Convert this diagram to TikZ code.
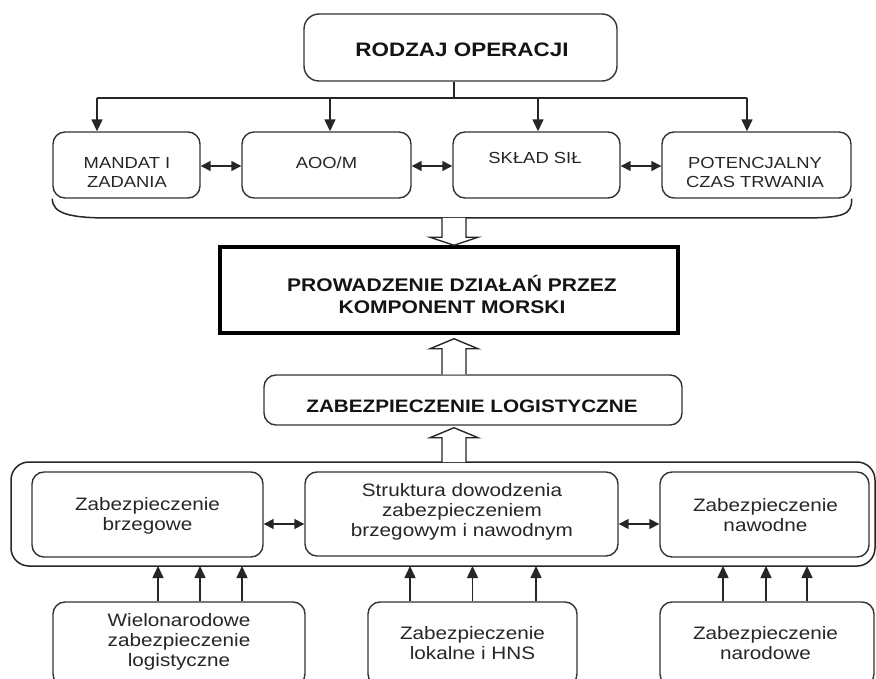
\documentclass[tikz,border=0pt]{standalone}
\usepackage{fontspec}
\newfontfamily\labf{Liberation Sans}[FakeStretch=1.15]
\usetikzlibrary{arrows.meta,calc}
\newcommand\hollowdown[2]{\draw[hol] let \p1=(#1),\p2=(#2) in
  (\x1-12pt,\y1) -- (\x1-12pt,\y2+8pt) -- (\x1-24pt,\y2+8pt) -- (\x1,\y2) -- (\x1+24pt,\y2+8pt) -- (\x1+12pt,\y2+8pt) -- (\x1+12pt,\y1);}
\newcommand\hollowup[2]{\draw[hol] let \p1=(#1),\p2=(#2) in
  (\x1-12pt,\y1) -- (\x1-12pt,\y2-10pt) -- (\x1-24pt,\y2-10pt) -- (\x1,\y2) -- (\x1+24pt,\y2-10pt) -- (\x1+12pt,\y2-10pt) -- (\x1+12pt,\y1);}
\begin{document}
\begin{tikzpicture}[x=1pt,y=-1pt,
  line/.style={draw=black!85,line width=1.5pt},
  box/.style={draw=black!80,line width=1.4pt,rounded corners=12pt,inner sep=0pt},
  thickbox/.style={draw=black,line width=3.5pt,inner sep=0pt},
  labS/.style={font={\labf\fontsize{16}{19}\selectfont},align=center,text=black!85,inner sep=0pt},
  labL/.style={font={\labf\fontsize{18}{20}\selectfont},align=center,text=black!85,inner sep=0pt},
  labB/.style={font={\labf\bfseries\fontsize{18.3}{22}\selectfont},align=center,text=black!92,inner sep=0pt},
  arr/.style={line,-{Triangle[length=12pt,width=11pt]}},
  darr/.style={line,{Triangle[length=10pt,width=10pt]}-{Triangle[length=10pt,width=10pt]}},
  hol/.style={draw=black!85,line width=1.4pt,fill=white}]
\useasboundingbox (0,0) rectangle (876,679);
\clip (0,0) rectangle (876,679);

% top
\node[box,rounded corners=15pt,minimum width=313pt,minimum height=67pt] (top) at (460.5,47.5) {};
\node[labB,font={\labf\bfseries\fontsize{19.5}{23}\selectfont}] (topT) at (462,50) {RODZAJ OPERACJI};

% row of four
\node[box,minimum width=147pt,minimum height=66pt] (mandat) at (126.5,165) {};
\node[box,minimum width=169pt,minimum height=66pt] (aoo) at (326.5,165) {};
\node[box,minimum width=167pt,minimum height=66pt] (sklad) at (536.5,165) {};
\node[box,minimum width=189pt,minimum height=66pt] (pot) at (756.5,165) {};
\node[labS] (mandatT) at (127,172) {MANDAT I\\ZADANIA};
\node[labS] (aooT) at (326.5,163) {AOO/M};
\node[labS] (skladT) at (535,158) {SKŁAD SIŁ};
\node[labS] (potT) at (755,172) {POTENCJALNY\\CZAS TRWANIA};

\coordinate (bus) at (454,98);
\coordinate (b1) at (97,98);
\coordinate (b2) at (330,98);
\coordinate (b3) at (538,98);
\coordinate (b4) at (747,98);
\draw[line] (top.south -| bus) -- (bus);
\draw[line] (b1) -- (b4);
\draw[arr] (b1) -- (b1 |- mandat.north);
\draw[arr] (b2) -- (b2 |- aoo.north);
\draw[arr] (b3) -- (b3 |- sklad.north);
\draw[arr] (b4) -- (b4 |- pot.north);

\coordinate (yr1) at (0,166);
\draw[darr] (mandat.east |- yr1) -- (aoo.west |- yr1);
\draw[darr] (aoo.east |- yr1) -- (sklad.west |- yr1);
\draw[darr] (sklad.east |- yr1) -- (pot.west |- yr1);

% brace under the row
\draw[line] (mandat.south west) .. controls +(0,15) and +(-40,0) .. (110,218) -- (800,218) .. controls +(45,0) and +(0,16) .. (pot.south east);
\coordinate (bracemid) at (454,218);

% central box
\node[thickbox,minimum width=458pt,minimum height=86pt] (prow) at (449,290) {};
\node[labB] (prowT) at (452,294) {PROWADZENIE DZIAŁAŃ PRZEZ\\KOMPONENT MORSKI};

\node[box,minimum width=418pt,minimum height=50pt] (zablog) at (473,400) {};
\node[labB,font={\labf\bfseries\fontsize{18}{22}\selectfont}] (zablogT) at (472,406) {ZABEZPIECZENIE LOGISTYCZNE};

\hollowdown{bracemid}{bracemid |- prow.north}
\hollowup{zablog.north -| bracemid}{$(prow.south -| bracemid)+(0,4)$}

% outer bracket
\draw[line,rounded corners=18pt] (11,462) rectangle (875,566);
\coordinate (brtop) at (454,462);
\coordinate (brbot) at (0,566);
\hollowup{brtop}{$(zablog.south -| brtop)+(0,2)$}

% middle row
\node[box,minimum width=231pt,minimum height=85pt] (brz) at (147.5,514.5) {};
\node[box,minimum width=313pt,minimum height=84pt] (str) at (461.5,514) {};
\node[box,minimum width=209pt,minimum height=85pt] (naw) at (764.5,514.5) {};
\node[labL] (brzT) at (147.5,516) {Zabezpieczenie\\brzegowe};
\node[labL] (strT) at (462,512) {Struktura dowodzenia\\zabezpieczeniem\\brzegowym i nawodnym};
\node[labL] (nawT) at (765.5,515) {Zabezpieczenie\\nawodne};

\coordinate (yr2) at (0,524);
\draw[darr] (brz.east |- yr2) -- (str.west |- yr2);
\draw[darr] (str.east |- yr2) -- (naw.west |- yr2);

% bottom row
\node[box,minimum width=252pt,minimum height=84pt] (wiel) at (179,644) {};
\node[box,minimum width=209pt,minimum height=84pt] (lok) at (472.5,644) {};
\node[box,minimum width=214pt,minimum height=84pt] (nar) at (767,644) {};
\node[labL] (wielT) at (179,642) {Wielonarodowe\\zabezpieczenie\\logistyczne};
\node[labL] (lokT) at (472.5,643) {Zabezpieczenie\\lokalne i HNS};
\node[labL] (narT) at (765.5,643) {Zabezpieczenie\\narodowe};

\foreach \dx in {-21,21,63} \draw[arr] ([xshift=\dx pt]wiel.north) -- ([xshift=\dx pt]wiel.north |- brbot);
\foreach \dx in {-62.5,0,63.5} \draw[arr] ([xshift=\dx pt]lok.north) -- ([xshift=\dx pt]lok.north |- brbot);
\foreach \dx in {-44,-1,40} \draw[arr] ([xshift=\dx pt]nar.north) -- ([xshift=\dx pt]nar.north |- brbot);
\end{tikzpicture}
\end{document}
